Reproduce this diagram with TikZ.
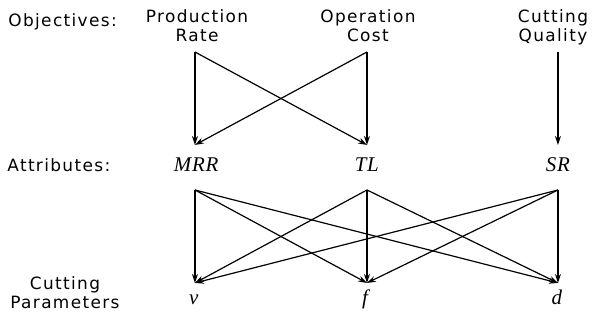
\documentclass[tikz,border=0pt]{standalone}
\usepackage{fontspec}
\setmainfont[LetterSpace=8]{DejaVu Sans}
\newfontfamily\varfont[LetterSpace=4]{Liberation Serif}
\usetikzlibrary{arrows.meta,positioning}
\tikzset{
	lbl/.style={font=\fontsize{8.5}{9.5}\selectfont,inner sep=0pt},
	obj/.style={lbl,align=center,text depth=0pt,anchor=south},
	attr/.style={inner sep=0pt,anchor=base,font=\varfont\itshape\fontsize{10.5}{12}\selectfont},
	arr/.style={line width=0.6pt,-{Stealth[length=4.5pt,width=3pt]}}
}
\begin{document}
\begin{tikzpicture}
	\useasboundingbox (0,0) rectangle (10.495,5.644);
	% row labels
	\node[lbl,anchor=base west] (lobj) at (0.141,5.173) {Objectives:};
	\node[lbl,anchor=base west] (lattr) at (0.123,2.616) {Attributes:};
	\node[obj] (lpar) at (1.146,0.194) {Cutting\\Parameters};
	% objectives
	\node[obj] (prod) at (3.475,4.909) {Production\\Rate};
	\node[obj] (cost) at (6.49,4.909) {Operation\\Cost};
	\node[obj] (qual) at (9.754,4.909) {Cutting\\Quality};
	% attributes
	\node[attr] (mrr) at (3.46,2.616) {MRR};
	\node[attr] (tl) at (6.47,2.616) {TL};
	\node[attr] (sr) at (9.84,2.616) {SR};
	% cutting parameters
	\node[attr] (v) at (3.42,0.265) {v};
	\node[attr] (f) at (6.44,0.265) {f};
	\node[attr] (d) at (9.82,0.265) {d};
	% ports
	\coordinate (prod-out) at (3.439,4.727);
	\coordinate (cost-out) at (6.473,4.727);
	\coordinate (qual-out) at (9.842,4.727);
	\coordinate (mrr-in) at (3.439,3.087);
	\coordinate (tl-in) at (6.473,3.087);
	\coordinate (sr-in) at (9.842,3.087);
	\coordinate (mrr-out) at (3.439,2.293);
	\coordinate (tl-out) at (6.473,2.293);
	\coordinate (sr-out) at (9.842,2.293);
	\coordinate (v-in) at (3.439,0.653);
	\coordinate (f-in) at (6.473,0.653);
	\coordinate (d-in) at (9.842,0.653);
	% objectives -> attributes
	\draw[arr] (prod-out) -- (mrr-in);
	\draw[arr] (prod-out) -- (tl-in);
	\draw[arr] (cost-out) -- (mrr-in);
	\draw[arr] (cost-out) -- (tl-in);
	\draw[arr] (qual-out) -- (sr-in);
	% attributes -> cutting parameters
	\foreach \a in {mrr,tl,sr}
		\foreach \p in {v,f,d}
			\draw[arr] (\a-out) -- (\p-in);
\end{tikzpicture}
\end{document}
